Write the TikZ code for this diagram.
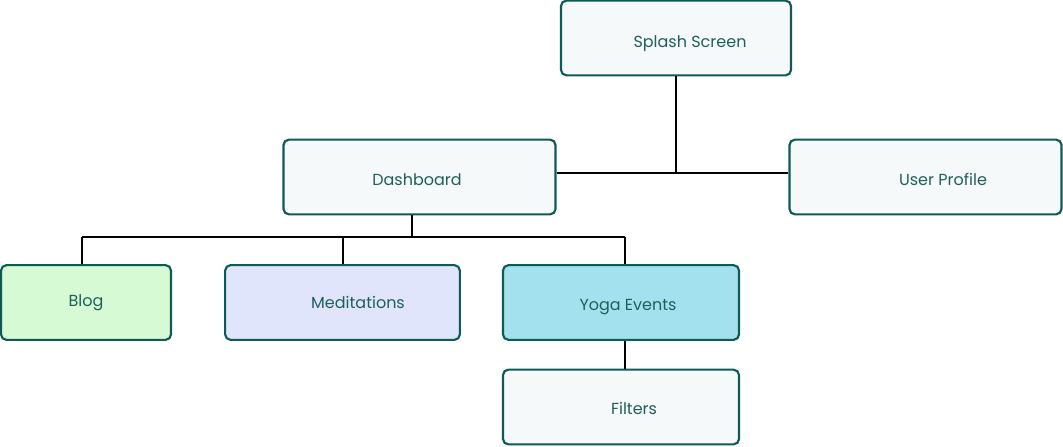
\documentclass[tikz,border=0pt]{standalone}
\usepackage{fontspec}
\setmainfont{Poppins}
\definecolor{edgeteal}{HTML}{0E5A56}
\definecolor{textteal}{HTML}{1F5F5B}
\definecolor{plainfill}{HTML}{F5F9F9}
\definecolor{blogfill}{HTML}{D6FAD3}
\definecolor{medfill}{HTML}{E0E5FC}
\definecolor{yogafill}{HTML}{A4E1EE}
\tikzset{
  screen/.style={draw=edgeteal, line width=1.6pt, rounded corners=4pt,
    fill=plainfill, minimum width=#1, minimum height=56pt, inner sep=0pt},
  screen/.default=204pt,
  caption/.style={text=textteal, font=\fontsize{12}{14}\selectfont,
    inner sep=0pt, yshift=-1.2pt},
  link/.style={draw=black, line width=0.85pt}
}
\begin{document}
\begin{tikzpicture}[x=0.75pt, y=-0.75pt]
  \useasboundingbox (0,0) rectangle (1063,446);

  % boxes
  \node[screen=172.5pt] (splash) at (676,38) {};
  \node[screen] (dash) at (419.5,177) {};
  \node[screen] (profile) at (925.5,177) {};
  \node[screen=127.5pt, fill=blogfill] (blog) at (86,302.5) {};
  \node[screen=176pt, fill=medfill] (med) at (342.5,302.5) {};
  \node[screen=177pt, fill=yogafill] (yoga) at (621,302.5) {};
  \node[screen=177pt] (filters) at (621,407) {};

  % captions
  \node[caption] (splashtxt) at (690,42) {Splash Screen};
  \node[caption] (dashtxt) at (417,178) {Dashboard};
  \node[caption] (profiletxt) at (943,178) {User Profile};
  \node[caption] (blogtxt) at (86,301) {Blog};
  \node[caption] (medtxt) at (358,301) {Meditations};
  \node[caption] (yogatxt) at (628,305) {Yoga Events};
  \node[caption] (filterstxt) at (634,407) {Filters};

  % joints
  \coordinate (top) at (676,173);
  \coordinate (mid) at (412,237);

  % links
  \draw[link] (splash.south -| top) -- (top);
  \draw[link] (dash.east |- top) -- (profile.west |- top);
  \draw[link] (dash.south -| mid) -- (mid);
  \draw[link] (82,237) -- (625,237);
  \draw[link] (mid -| 82,0) -- (blog.north -| 82,0);
  \draw[link] (mid -| 343,0) -- (med.north -| 343,0);
  \draw[link] (mid -| 625,0) -- (yoga.north -| 625,0);
  \draw[link] (yoga.south -| 625,0) -- (filters.north -| 625,0);
\end{tikzpicture}
\end{document}
